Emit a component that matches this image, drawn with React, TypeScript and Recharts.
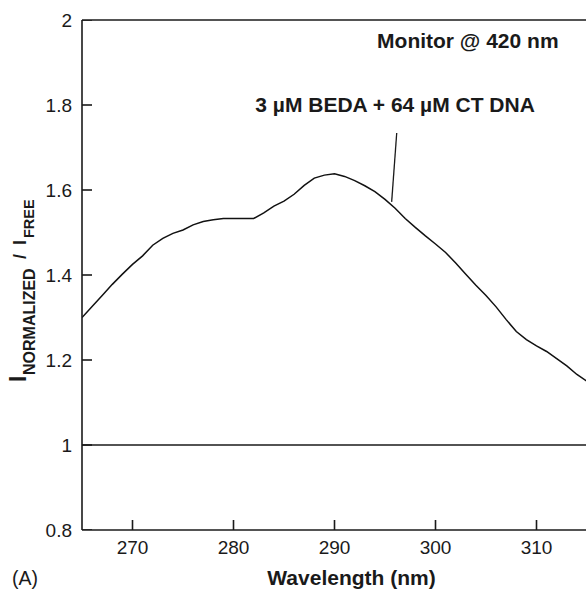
import React from 'react';
import { ComposedChart, Line, Scatter, XAxis, YAxis, ReferenceLine, ReferenceDot } from 'recharts';

// ---- data ----
const wavelengths = [
  265, 266, 267, 268, 269, 270, 271, 272, 273, 274, 275, 276, 277, 278, 279, 280,
  281, 282, 283, 284, 285, 286, 287, 288, 289, 290, 291, 292, 293, 294, 295, 296,
  297, 298, 299, 300, 301, 302, 303, 304, 305, 306, 307, 308, 309, 310, 311, 312,
  313, 314, 315,
];
const intensityRatio = [
  1.300, 1.326, 1.352, 1.378, 1.402, 1.425, 1.445, 1.470, 1.486, 1.498, 1.506, 1.518,
  1.526, 1.530, 1.533, 1.533, 1.533, 1.533, 1.546, 1.562, 1.574, 1.590, 1.611, 1.628,
  1.635, 1.638, 1.632, 1.622, 1.610, 1.596, 1.578, 1.557, 1.533, 1.512, 1.492, 1.473,
  1.453, 1.428, 1.402, 1.376, 1.352, 1.325, 1.295, 1.267, 1.248, 1.233, 1.220, 1.203,
  1.186, 1.166, 1.150,
];
const xTicks = [270, 280, 290, 300, 310];
const yTicks = [0.8, 1, 1.2, 1.4, 1.6, 1.8, 2];
const xDomain = [265, 315];
const yDomain = [0.8, 2];
const baselineValue = 1;
const monitorText = 'Monitor @ 420 nm';
const monitorPos = { x: 303.2, y: 1.951 };
const sampleText = '3 µM BEDA + 64 µM CT DNA';
const samplePos = { x: 296.0, y: 1.802 };
const pointerSegment = [
  { x: 296.16, y: 1.734 },
  { x: 295.66, y: 1.572 },
];
const xTitle = 'Wavelength (nm)';
const panelTag = '(A)';

const data = wavelengths.map((w, i) => ({ w, r: intensityRatio[i] }));
const xTickMarks = xTicks.map((t) => ({ w: t, r: yDomain[0] }));
const yTickMarks = yTicks.map((t) => ({ w: xDomain[0], r: t }));

const FONT = '"Liberation Sans", Arial, Helvetica, sans-serif';
const INK = '#1a1a1a';
const TICK_PX = 10;

const UpTick = (props: any) => {
  const { cx, cy } = props;
  if (cx == null || cy == null) return <g />;
  return <line x1={cx} y1={cy} x2={cx} y2={cy - TICK_PX} stroke={INK} strokeWidth={1.6} />;
};

const RightTick = (props: any) => {
  const { cx, cy } = props;
  if (cx == null || cy == null) return <g />;
  return <line x1={cx} y1={cy} x2={cx + TICK_PX} y2={cy} stroke={INK} strokeWidth={1.6} />;
};

const XTitle = (props: any) => {
  const vb = props.viewBox || { x: 82, y: 530, width: 505, height: 62 };
  return (
    <g>
      <text
        x={vb.x + vb.width / 2 + 17}
        y={vb.y + 55}
        textAnchor="middle"
        fontSize={21}
        fontWeight="bold"
        fill={INK}
        fontFamily={FONT}
      >
        {xTitle}
      </text>
      <text x={vb.x - 70} y={vb.y + 55} fontSize={19.5} fill={INK} fontFamily={FONT}>
        {panelTag}
      </text>
    </g>
  );
};

const YTitle = (props: any) => {
  const vb = props.viewBox || { x: 0, y: 20, width: 82, height: 510 };
  const bx = vb.x + 26;
  const by = vb.y + 362;
  return (
    <text
      transform={`translate(${bx},${by}) rotate(-90)`}
      fontWeight="bold"
      fill={INK}
      fontFamily={FONT}
    >
      <tspan x={0} y={0} fontSize={23}>I</tspan>
      <tspan x={7} y={9} fontSize={16}>NORMALIZED</tspan>
      <tspan x={123} y={0} fontSize={18}>/</tspan>
      <tspan x={137} y={0} fontSize={18}>I</tspan>
      <tspan x={144} y={8} fontSize={14.5}>FREE</tspan>
    </text>
  );
};

export default function App() {
  return (
    <div
      style={{
        position: 'absolute',
        left: 0,
        top: 0,
        width: 586,
        height: 592,
        overflow: 'hidden',
        background: '#fff',
        fontFamily: FONT,
      }}
    >
      <ComposedChart
        width={600}
        height={592}
        data={data}
        margin={{ top: 20, right: 13, bottom: 0, left: 0 }}
      >
        <XAxis
          dataKey="w"
          type="number"
          domain={xDomain}
          ticks={xTicks}
          allowDataOverflow
          height={62}
          tickSize={0}
          tickMargin={11}
          tickLine={false}
          axisLine={{ stroke: INK, strokeWidth: 1.6 }}
          tick={{ fontSize: 19, fill: INK, fontFamily: FONT }}
          label={{ content: XTitle }}
        />
        <YAxis
          dataKey="r"
          type="number"
          domain={yDomain}
          ticks={yTicks}
          allowDataOverflow
          width={82}
          tickSize={0}
          tickMargin={10}
          tickLine={false}
          axisLine={{ stroke: INK, strokeWidth: 1.6 }}
          tick={{ fontSize: 19, fill: INK, fontFamily: FONT }}
          label={{ content: YTitle }}
        />
        <ReferenceLine y={yDomain[1]} stroke={INK} strokeWidth={1.5} ifOverflow="visible" />
        <ReferenceLine y={baselineValue} stroke={INK} strokeWidth={1.5} />
        <ReferenceLine segment={pointerSegment} stroke={INK} strokeWidth={1.3} />
        <ReferenceDot
          x={monitorPos.x}
          y={monitorPos.y}
          r={1}
          fill="none"
          stroke="none"
          label={{
            value: monitorText,
            position: 'center',
            fontSize: 21,
            fontWeight: 'bold',
            fill: INK,
            fontFamily: FONT,
          }}
        />
        <ReferenceDot
          x={samplePos.x}
          y={samplePos.y}
          r={1}
          fill="none"
          stroke="none"
          label={{
            value: sampleText,
            position: 'center',
            fontSize: 21,
            fontWeight: 'bold',
            fill: INK,
            fontFamily: FONT,
          }}
        />
        <Line
          type="linear"
          dataKey="r"
          stroke="#111"
          strokeWidth={1.5}
          dot={false}
          isAnimationActive={false}
        />
        <Scatter
          data={xTickMarks}
          dataKey="r"
          shape={UpTick}
          isAnimationActive={false}
          legendType="none"
        />
        <Scatter
          data={yTickMarks}
          dataKey="r"
          shape={RightTick}
          isAnimationActive={false}
          legendType="none"
        />
      </ComposedChart>
    </div>
  );
}
